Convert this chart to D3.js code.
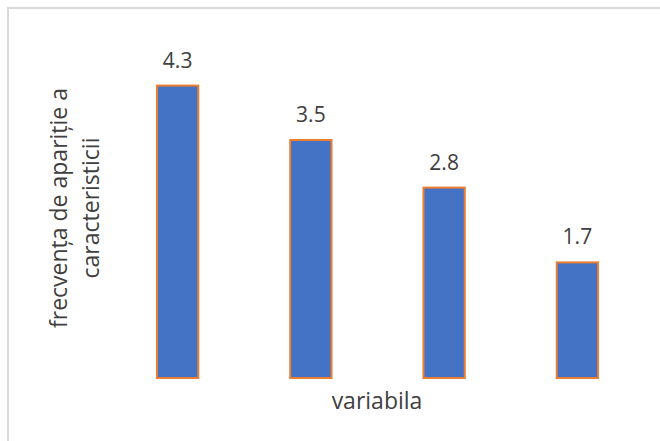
<!DOCTYPE html>
<html>
<head>
<meta charset="utf-8">
<script src="https://cdn.jsdelivr.net/npm/d3@7"></script>
<style>
	body { margin: 0; background: #fff; }
	text { font-family: 'Open Sans', sans-serif; fill: #404040; }
</style>
</head>
<body>
<script>
const w = 660,
	h = 441;

//data
const categories = ['1', '2', '3', '4'];
const values = [4.3, 3.5, 2.8, 1.7];
const yTitleLines = ['frecvența de apariție a', 'caracteristicii'];
const xTitle = 'variabila';

const svg = d3.select('body')
	.append('svg')
	.attr('width', w)
	.attr('height', h);

//chart area border (runs off the right and bottom edge)
svg.append('rect')
	.attr('x', 8)
	.attr('y', 8)
	.attr('width', 720)
	.attr('height', 520)
	.attr('fill', '#fff')
	.attr('stroke', '#d9d9d9')
	.attr('stroke-width', 2);

const x = d3.scaleBand()
	.domain(categories)
	.range([111, 644])
	.paddingInner(0.69)
	.paddingOuter(0.345);

const y = d3.scaleLinear()
	.domain([0, 5])
	.range([378, 38]);

const bars = svg.selectAll('g.bar')
	.data(values)
	.enter()
	.append('g')
	.attr('class', 'bar');

bars.append('rect')
	.attr('x', (d, i) => x(categories[i]))
	.attr('y', (d) => y(d))
	.attr('width', x.bandwidth())
	.attr('height', (d) => y(0) - y(d))
	.attr('fill', '#4472c4')
	.attr('stroke', '#ed7d31')
	.attr('stroke-width', 2);

bars.append('text')
	.attr('x', (d, i) => x(categories[i]) + x.bandwidth() / 2)
	.attr('y', (d) => y(d) - 18)
	.attr('text-anchor', 'middle')
	.style('font-size', '21px')
	.text((d) => d.toFixed(1));

//axis titles
svg.append('text')
	.attr('x', 377)
	.attr('y', 409)
	.attr('text-anchor', 'middle')
	.style('font-size', '23px')
	.text(xTitle);

const yTitle = svg.append('text')
	.attr('transform', 'translate(67,208) rotate(-90)')
	.attr('text-anchor', 'middle')
	.style('font-size', '23px');

yTitle.selectAll('tspan')
	.data(yTitleLines)
	.enter()
	.append('tspan')
	.attr('x', 0)
	.attr('y', (d, i) => i * 32)
	.text((d) => d);
</script>
</body>
</html>
